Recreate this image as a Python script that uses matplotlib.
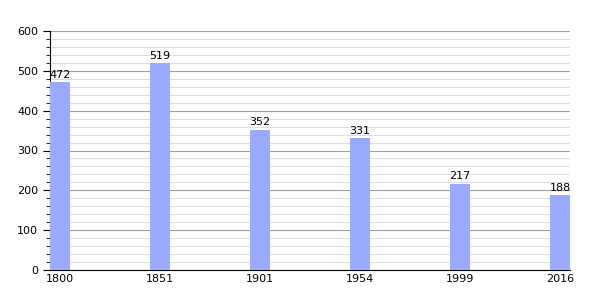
import matplotlib
matplotlib.use('Agg')
import matplotlib.pyplot as plt
from matplotlib.ticker import MultipleLocator

years = ['1800', '1851', '1901', '1954', '1999', '2016']
population = [472, 519, 352, 331, 217, 188]

fig = plt.figure(figsize=(6, 3), dpi=100)
ax = fig.add_axes([50/600, 30/300, 520/600, 239/300])

pos = list(range(len(years)))
ax.bar(pos, population, width=0.2, align='edge', color='#99aaff', zorder=3)
for x, v in zip(pos, population):
    ax.text(x + 0.1, v + 6, str(v), ha='center', va='bottom', fontsize=8, zorder=4)

ax.set_xlim(0, 5.2)
ax.set_ylim(0, 600)
ax.set_xticks([p + 0.1 for p in pos])
ax.set_xticklabels(years)
ax.yaxis.set_major_locator(MultipleLocator(100))
ax.yaxis.set_minor_locator(MultipleLocator(20))
ax.grid(True, which='major', axis='y', color='#a0a0a0', lw=0.8, zorder=1)
ax.grid(True, which='minor', axis='y', color='#dddddd', lw=0.8, zorder=0)
ax.tick_params(axis='x', length=0, labelsize=8, pad=3)
ax.tick_params(axis='y', which='major', length=5, labelsize=8)
ax.tick_params(axis='y', which='minor', length=3)
for s in ['top', 'right']:
    ax.spines[s].set_visible(False)

plt.savefig('out.png')
